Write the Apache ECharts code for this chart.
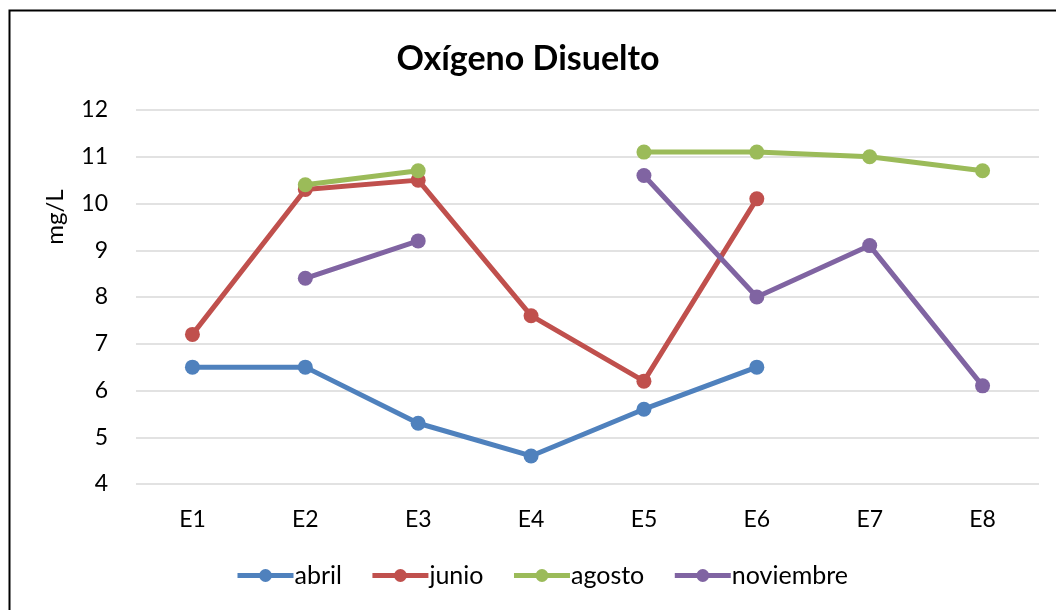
<!DOCTYPE html>
<html><head><meta charset="utf-8">
<script src="https://cdn.jsdelivr.net/npm/echarts@6/dist/echarts.min.js"></script>
<style>html,body{margin:0;padding:0;background:#fff}#c{width:1056px;height:610px}</style>
</head><body><div id="c"></div>
<script>
const categories = ['E1','E2','E3','E4','E5','E6','E7','E8'];
const abril = [6.5, 6.5, 5.3, 4.6, 5.6, 6.5, null, null];
const junio = [7.2, 10.3, 10.5, 7.6, 6.2, 10.1, null, null];
const agosto = [null, 10.4, 10.7, null, 11.1, 11.1, 11.0, 10.7];
const noviembre = [null, 8.4, 9.2, null, 10.6, 8.0, 9.1, 6.1];
const seriesNames = ['abril','junio','agosto','noviembre'];
const colors = ['#4F81BD','#C0504D','#9BBB59','#8064A2'];
const font = 'Lato, Carlito, Calibri, sans-serif';

const chart = echarts.init(document.getElementById('c'), null, {renderer:'canvas'});
const mk = (name, data, i) => ({
  name, type:'line', data, connectNulls:false,
  symbol:'circle', symbolSize:15,
  lineStyle:{width:5, color:colors[i]},
  itemStyle:{color:colors[i]},
  emphasis:{disabled:true}
});
chart.setOption({
  animation:false,
  title:{text:'Oxígeno Disuelto', left:'center', top:37,
    textStyle:{fontFamily:font, fontSize:34, fontWeight:'bold', color:'#000'}},
  graphic:[
    {type:'rect', shape:{x:9.5, y:10.5, width:1100, height:700}, style:{fill:null, stroke:'#000', lineWidth:2}, silent:true},
    {type:'text', x:55, y:217, rotation:Math.PI/2, style:{text:'mg/L', font:'24px '+font, fill:'#000', textAlign:'center', textVerticalAlign:'middle'}}
  ],
  legend:{bottom:17, left:230, itemWidth:56, itemHeight:16, itemGap:28,
    lineStyle:{width:5},
    textStyle:{fontFamily:font, fontSize:25, color:'#000', padding:[0,0,0,-4]},
    data:seriesNames},
  grid:{left:136, right:17, top:110, bottom:126},
  xAxis:{type:'category', data:categories, boundaryGap:true,
    axisLine:{show:false}, axisTick:{show:false},
    axisLabel:{fontFamily:font, fontSize:23, color:'#000', margin:24}},
  yAxis:{type:'value', min:4, max:12, interval:1,
    axisLine:{show:false}, axisTick:{show:false},
    axisLabel:{fontFamily:font, fontSize:23, color:'#000', margin:28},
    splitLine:{lineStyle:{color:'#D9D9D9', width:1.5}}},
  series:[mk('abril',abril,0), mk('junio',junio,1), mk('agosto',agosto,2), mk('noviembre',noviembre,3)]
});
</script></body></html>
